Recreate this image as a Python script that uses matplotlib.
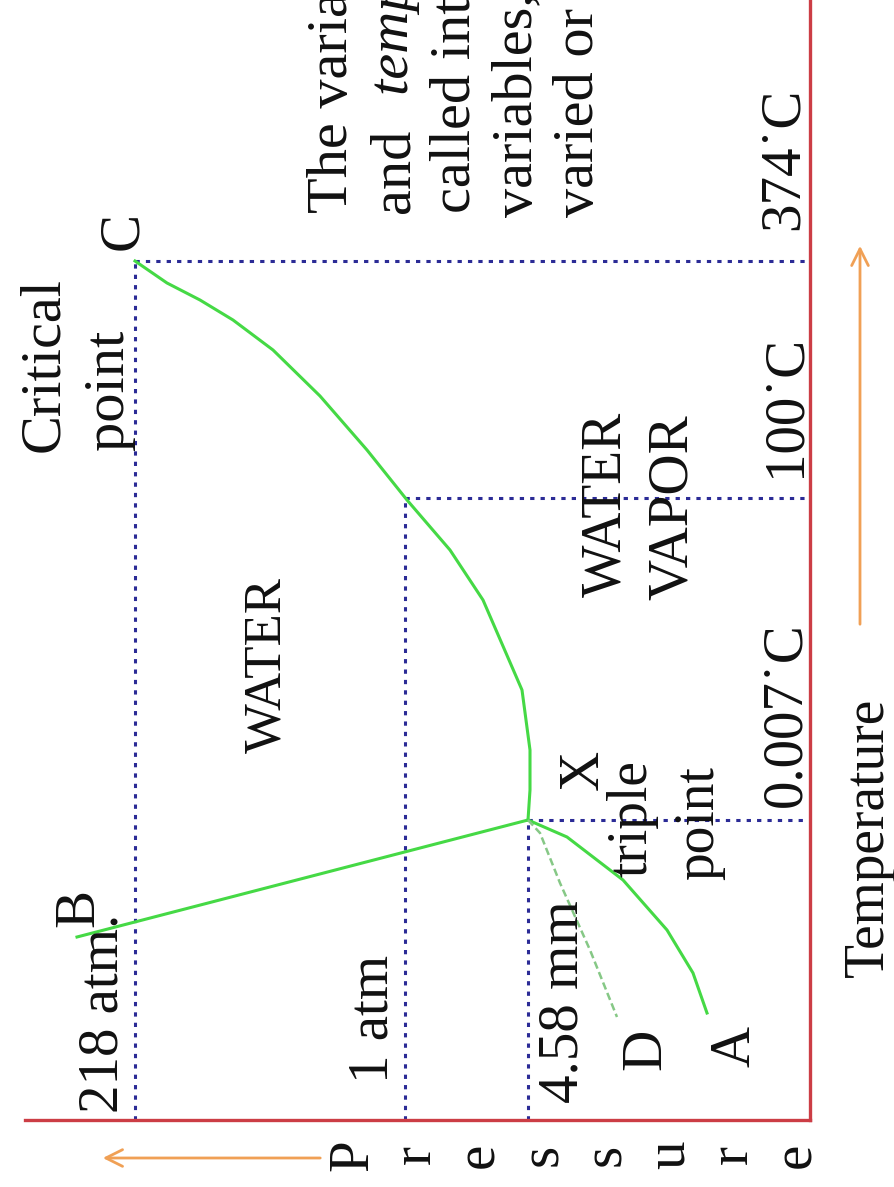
import numpy as np
import matplotlib
matplotlib.use("Agg")
import matplotlib.pyplot as plt

# phase diagram of water, drawn turned 90 deg: pressure runs to the left, temperature runs up
# the numbers are schematic distances from the corner of the axes, not physical values

press_marks = [67.5, 40.5, 28.2]
press_labels = ["218 atm.", "1 atm", "4.58 mm"]
temp_marks = [85.9, 62.2, 30.0]
temp_labels = ["374˙C", "100˙C", "0.007˙C"]

# X -> C  (liquid / vapour)
vap_p = [28.2, 28.0, 28.0, 28.8, 32.7, 36.0, 40.3, 44.3, 49.0, 53.7, 57.7, 61.0, 64.3, 67.5]
vap_t = [30.0, 33.0, 37.0, 43.0, 52.0, 57.0, 62.0, 67.0, 72.4, 77.0, 80.0, 82.0, 83.7, 85.9]
# X -> B  (solid / liquid)
fus_p = [28.2, 73.3]
fus_t = [30.0, 18.3]
# X -> A  (solid / vapour)
sub_p = [28.2, 24.3, 18.7, 14.3, 11.7, 10.3]
sub_t = [30.0, 28.3, 24.0, 19.0, 14.7, 10.7]
# X -> D  (supercooled water)
sup_p = [28.2, 27.0, 25.0, 22.0, 19.3]
sup_t = [30.0, 28.7, 23.7, 17.0, 10.3]

note_lines = ["The variables pressure", "and", "called intensive", "variables, which", "varied or changed"]
axis_word = "Pressure"

serif = ["Liberation Serif", "DejaVu Serif"]
red = "#cc3d45"
blue = "#2b2b96"
green = "#45d945"
orange = "#f0a055"

W, H = 895, 1187
fig = plt.figure(figsize=(W / 100, H / 100), dpi=100)
ax = fig.add_axes([25 / W, (H - 1120) / H, 785 / W, 1120 / H])
ax.set_xlim(78.5, 0)
ax.set_ylim(0, 112)
ax.set_xticks([])
ax.set_yticks([])
for side in ["top", "left"]:
    ax.spines[side].set_visible(False)
for side in ["right", "bottom"]:
    ax.spines[side].set_color(red)
    ax.spines[side].set_linewidth(2.4)


def rtext(p, t, s, size=41, **kw):
    kw.setdefault("ha", "left")
    ax.text(p, t, s, rotation=90, rotation_mode="anchor", va="baseline",
            fontsize=size, family=serif, color="#111111", **kw)


dot = dict(color=blue, lw=2.2, ls=(0, (1.4, 2.0)))
for pm, tm in zip(press_marks, temp_marks):
    ax.plot([pm, pm], [0, tm], **dot)
    ax.plot([pm, 0], [tm, tm], **dot)

ax.plot(vap_p, vap_t, color=green, lw=2.2)
ax.plot(fus_p, fus_t, color=green, lw=2.2)
ax.plot(sub_p, sub_t, color=green, lw=2.2)
ax.plot(sup_p, sup_t, color="#86c886", lw=1.8, ls=(0, (3, 1.5)))

# pressure labels along the bottom, temperature labels along the right
p_off = [(1.8, 0.7), (1.8, 3.7), (-4.9, 1.7)]
for pm, lab, (dp, dt) in zip(press_marks, press_labels, p_off):
    rtext(pm + dp, dt, lab)
t_off = [(1.2, 3.1), (1.0, 2.1), (1.0, 1.3)]
for tm, lab, (dp, dt) in zip(temp_marks, temp_labels, t_off):
    rtext(dp, tm + dt, lab)

rtext(75.2, 66.8, "Critical", size=42)
rtext(68.7, 67.0, "point", size=42)
rtext(67.3, 87.0, "C")
rtext(53.0, 36.7, "WATER", size=38)
rtext(19.0, 52.3, "WATER", size=40)
rtext(12.3, 52.0, "VAPOR", size=41)
rtext(21.2, 33.0, "X", size=40)
rtext(16.3, 24.3, "triple", size=40)
rtext(9.7, 24.0, "point", size=40)
rtext(15.0, 5.0, "D")
rtext(6.0, 5.3, "A")
rtext(71.7, 19.3, "B")
rtext(-7.3, 14.3, "Temperature", size=40)

# text block cut off by the top edge
note_base = [46.3, 40.15, 34.0, 27.85, 21.7]
for i, (pb, line) in enumerate(zip(note_base, note_lines)):
    rtext(pb, 90.7 if i < 3 else 90.3, line, size=42)
rtext(note_base[1], 102.5, "temperature are", size=42, style="italic")

# "Pressure" written one letter per line
for i, ch in enumerate(axis_word):
    rtext(44.3 - 6.33 * i, -3.5, ch, size=41, ha="center")

arrow = dict(arrowstyle="->", color=orange, lw=2.0, mutation_scale=30)
ax.annotate("", xy=(71, -3.8), xytext=(48.7, -3.8), arrowprops=arrow, annotation_clip=False)
ax.annotate("", xy=(-5, 87.7), xytext=(-5, 49.3), arrowprops=arrow, annotation_clip=False)

fig.savefig("out.png", dpi=100, facecolor="white")
